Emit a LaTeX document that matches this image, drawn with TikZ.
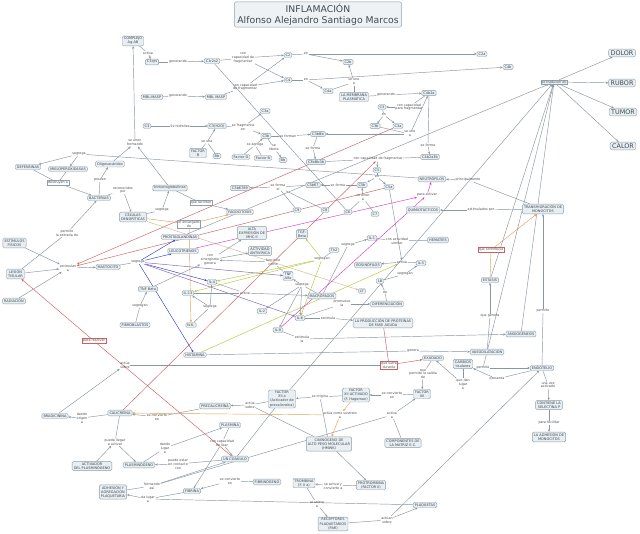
\documentclass[tikz,border=0pt]{standalone}
\usepackage{fontspec}
\setmainfont{DejaVu Sans}
\usetikzlibrary{arrows.meta}
\pgfdeclarelayer{bgl}
\pgfsetlayers{bgl,main}
\definecolor{nbg}{HTML}{E8EEF2}
\definecolor{tbg}{HTML}{EEF2F5}
\definecolor{nbd}{HTML}{8EA0AC}
\definecolor{ntx}{HTML}{3F4A54}
\definecolor{ltx}{HTML}{4A4A4A}
\definecolor{ln}{HTML}{8A96A0}
\definecolor{rd}{HTML}{D06060}
\definecolor{og}{HTML}{E8A050}
\definecolor{mg}{HTML}{D040D0}
\definecolor{bl}{HTML}{3040C0}
\definecolor{pu}{HTML}{8060C0}
\definecolor{yg}{HTML}{B8C840}
\definecolor{tn}{HTML}{D8B890}
\tikzset{
 nd/.style={draw=nbd, fill=nbg, rounded corners=1.3pt, text=ntx, align=center, font=\fontsize{3.5}{4.1}\selectfont, inner xsep=1.6pt, inner ysep=1.2pt, line width=0.4pt},
 bignd/.style={nd, font=\fontsize{6.4}{7.5}\selectfont, inner xsep=2pt, inner ysep=1.4pt, rounded corners=2pt},
 ttl/.style={nd, font=\fontsize{9.3}{11}\selectfont, inner xsep=3pt, inner ysep=1.8pt, rounded corners=2pt, fill=tbg},
 lb/.style={text=ltx, align=center, font=\fontsize{3.3}{3.8}\selectfont, inner sep=0.5pt},
 lbw/.style={lb, draw=nbd, fill=white, line width=0.3pt, inner sep=0.8pt},
 lbr/.style={lb, draw=rd, fill=white, line width=0.3pt, inner sep=0.8pt},
 lbb/.style={lb, draw=nbd, fill=nbg, line width=0.3pt, inner sep=0.8pt},
 ed/.style={line width=0.45pt},
}
\newcommand\Nd[4][]{\node[nd,#1] (#2) at (#3) {#4};}
\newcommand\Lb[4][]{\node[lb,#1] (#2) at (#3) {#4};}
\newcommand\eL[3][ln]{\draw[ed,draw=#1] (#2) -- (#3);}
\newcommand\eA[3][ln]{\draw[ed,draw=#1,-{Stealth[length=2.6pt,width=2.2pt]}] (#2) -- (#3);}
\begin{document}
\begin{tikzpicture}[x=1pt,y=-1pt]
\useasboundingbox (0,0) rectangle (640,534);
% title and outcomes
\node[ttl] (title) at (318,14.5) {INFLAMACIÓN\\Alfonso Alejandro Santiago Marcos};
\node[bignd] (dolor) at (622,53) {DOLOR};
\node[bignd] (rubor) at (622,83) {RUBOR};
\node[bignd] (tumor) at (623,112) {TUMOR};
\node[bignd] (calor) at (623,146) {CALOR};
\Lb[lbb]{traducen}{554,82}{se traducen en}
% complement
\Nd{complejo}{133,41}{COMPLEJO\\Ag-AB}
\Lb{activa1}{148,53}{activa}
\Nd{c1qrs}{152,62}{C1qrs}
\Lb{gen1}{178,62}{generando}
\Nd{c1r2s2}{212,61}{C1r2s2}
\Lb{ccf1}{243,58}{con\\capacidad de\\fragmentar}
\Nd{c2}{288,55}{C2}
\Lb{en1}{306,54}{en}
\Nd{c4}{288,80}{C4}
\Lb{en2}{306,80}{en}
\Nd{mbl1}{152,97}{MBL-MASP}
\Lb{gen2}{178,96}{generando}
\Nd{mbl2}{216,97}{MBL MASP}
\Lb{ccf2}{245,87}{con capacidad\\de fragmentar}
\Nd{c3L}{147,126}{C3}
\Lb{hidro}{180,126}{Se hidroliza}
\Nd{c3h}{217,126}{C3(H2O)}
\Lb{frag}{243,127}{se fragmenta\\en}
\Nd{c3aL}{265,111}{C3a}
\Nd{c3bL}{266,136}{C3b}
\Lb{seune}{207,142}{se une}
\Nd{fb1}{198,153}{FACTOR\\B}
\Nd{bb1}{217,156}{Bb}
\Lb{seagrega}{255,145}{se agrega}
\Lb{selibera}{274,148}{se\\libera}
\Nd{fd}{241,157}{Factor D}
\Nd{fb2}{263,158}{Factor B}
\Nd{bb2}{283,160}{Bb}
\Lb{seforman}{288,136}{se forman}
\Nd{c3bbb}{318,134}{C3bBb}
\Lb{seforma2}{313,148}{se forma}
\Nd{c3bbb3b}{316,162}{C3bBb3b}
\Nd{c2a}{482,54}{C2a}
\Nd{c2b}{348,62}{C2b}
\Nd{c4b}{508,67}{C4b}
\Nd{c4a}{328,91}{C4a}
\Lb{seunea1}{354,82}{se une\\a}
\Nd{membrana}{354,97}{LA MEMBRANA\\PLASMÁTICA}
\Lb{gen3}{386,95}{generando}
\Nd{c4b2a}{429,93}{C4b2a}
\Nd{c3R}{382,107}{C3}
\Lb{ccfp}{409,107}{con capacidad\\para fragmentar}
\Lb{en3}{384,115}{en}
\Nd{c3bR}{375,126}{C3b}
\Nd{c3aR}{398,126}{C3a}
\Lb{seunea2}{410,134}{se une\\a}
\Lb{seforma1}{428,145}{se forma}
\Nd{c4b2a3b}{430,157}{C4b2a3b}
\Lb{ccf3}{378,159}{con capacidad de fragmentar}
\Nd{c5}{377,170}{C5}
\Lb{en4}{377,177}{en}
\Nd{c5b}{362,185}{C5b}
\Nd{c5a}{389,187}{C5a}
\Lb{seforma3}{338,185}{se forma}
\Nd{c5b67}{313,185}{C5b67}
\Lb{seunena}{363,198}{se unen\\a}
\Nd{c6}{348,212}{C6}
\Nd{c7}{375,214}{C7}
\Nd{c8}{325,210}{C8}
\Nd{c9}{297,210}{C9}
\Lb{seformael}{278,187}{se forma\\el}
\Nd{c5b6789}{240,188}{C5b6789}
% cells
\Nd{neutro}{432,179}{NEUTRÓFILOS}
\Lb{principalmente}{468,180}{principalmente}
\Lb{paraactivar}{427,195}{para activar}
\Nd{quimio}{423,210}{QUIMIOTÁCTICOS}
\Lb{atraidos}{481,210}{estimulados por}
\Nd{transmig}{543,209}{TRANSMIGRACIÓN DE\\MONOCITOS}
\Nd{hematies}{438,240}{HEMATÍES}
\Lb{conactividad}{397,241}{con actividad\\similar}
\Nd{il1}{372,238}{IL-1}
\Lb{segrega5}{348,245}{segrega}
\Nd{th2}{334,250}{Th2}
\Lb{segregan1}{322,259}{segregan}
\Nd{eosino}{368,265}{EOSINÓFILOS}
\Lb{activa2}{402,262}{activa}
\Nd{il5}{421,263}{IL-5}
\Nd{lb}{380,281}{LB}
\Lb{segregan2}{405,274}{segregan}
\Nd{lt}{362,291}{LT}
\Lb{de1}{385,292}{de}
\Nd{difer}{387,304}{DIFERENCIACIÓN}
\Lb{promueve}{342,304}{promueve\\la}
\Nd{produccion}{383,323}{LA PRODUCCIÓN DE PROTEÍNAS\\DE FASE AGUDA}
\Lb{estimula1}{328,318}{estimula}
\Nd{macrofagos}{322,296}{MACRÓFAGOS}
\Lb{segrega6}{302,285}{segrega}
\Nd{tnfa}{288,276}{TNF\\Alfa}
\Lb{funciona}{273,262}{funciona\\como}
\Nd{actividad}{260,251}{ACTIVIDAD\\ANTIVÍRICA}
\Nd{alta}{252,233}{ALTA\\EXPRESIÓN DE\\MHC-II}
\Nd{tgf}{302,234}{TGF-\\Beta}
\Lb{sinergismo}{210,260}{con\\sinergismo\\genera}
\Nd{il4}{212,282}{IL-4}
\Nd{il13}{188,293}{IL-13}
\Lb{activa3}{245,293}{activa}
\Lb{segrega7}{210,307}{segrega}
\Nd{nk}{191,325}{N.K.}
\Nd{il2}{262,311}{IL-2}
\Nd{il6}{300,318}{IL-6}
\Nd{il8}{278,330}{IL-8}
\Lb{estimula2}{302,339}{estimula\\la}
\Nd{histamina}{195,355}{HISTAMINA}
\Nd{prosta}{180,237}{PROSTAGLANDINAS}
\Nd{leuco}{183,251}{LEUCOTRIENOS}
\Lb[lbw]{encargado}{189,224}{el encargado\\de}
\Nd{fagocitosis}{240,212}{FAGOCITOSIS}
\Lb[lbw]{facilitan}{201,203}{que facilitan}
\Nd{inmuno}{170,188}{Inmunoglobulinas}
\Lb{segrega2}{162,210}{segrega}
\Nd{celulas}{133,217}{CÉLULAS\\DENDRÍTICAS}
\Lb{reconocidos}{123,190}{reconocidos\\por}
\Nd{bacterias}{99,198}{BACTERIAS}
\Lb{poseen}{100,180}{poseen}
\Nd{oligo}{110,164}{Oligosacáridos}
\Lb{segrega1}{79,154}{segrega}
\Nd{defensinas}{28,167}{DEFENSINAS}
\Nd{mielo}{68,169}{MIELOPEROXIDASAS}
\Lb[lbw]{destruyen}{58,183}{destruyen a}
\Lb{seunenformando}{135,143}{se unen\\formando}
\Nd{estimulos}{14.5,243}{ESTÍMULOS\\FÍSICOS}
\Nd{lesion}{15.5,274}{LESIÓN\\TISULAR}
\Nd{radiacion}{14,301}{RADIACIÓN}
\Lb{permite1}{67,233}{permite\\la entrada de}
\Lb{estimulan}{68,268}{estimulan\\a}
\Nd{mastocito}{108,267}{MASTOCITO}
\Lb{segrega3}{138,262}{segrega}
\Nd{tnfb}{148,289}{TNF Beta}
\Lb{segregan3}{140,306}{segregan}
\Nd{fibro}{135,325}{FIBROBLASTOS}
\Lb[lbr]{pararesolver}{94,341}{para resolver}
% coagulation
\Lb{actua1}{125,365}{actúa\\sobre}
\Nd{bradicinina}{55,416}{BRADICININA}
\Lb{dando1}{82,418}{dando\\origen\\a}
\Nd{calicreina}{120,413}{CALICREÍNA}
\Lb{seconvierte1}{157,417}{se convierte\\en}
\Lb{puede}{115,442}{puede llegar\\a activar}
\Nd{activador}{92,466}{ACTIVADOR\\DEL PLASMINÓGENO}
\Nd{plasminogeno}{139,465}{PLASMINÓGENO}
\Nd{adhesion}{113,492}{ADHESIÓN Y\\AGREGACIÓN\\PLAQUETARIA}
\Lb{formando}{152,486}{formando\\así}
\Lb{dalugar}{148,499}{da lugar\\a}
\Nd{precalicreina}{215,406}{PRECALICREÍNA}
\Lb{actua2}{250,405}{actúa\\sobre}
\Nd{factorxiia}{282,399}{FACTOR\\XII a\\(Activador de\\precalicreína)}
\Nd{plasmina}{230,425}{PLASMINA}
\Lb{lisar}{222,443}{con capacidad\\de lisar}
\Lb{dandolugar}{165,448}{dando\\lugar\\a}
\Lb{contacto}{178,464}{puede estar\\en contacto\\con}
\Nd{coagulo}{235,459}{UN COÁGULO}
\Lb{seconvierte2}{230,481}{se convierte\\en}
\Nd{fibrinogeno}{267,482}{FIBRINÓGENO}
\Nd{fibrina}{192,491}{FIBRINA}
\Nd{trombina}{304,483}{TROMBINA\\(F. II a)}
\Nd{cininogeno}{329,444}{CININÓGENO DE\\ALTO PESO MOLECULAR\\(HMWK)}
\Nd{factorxiiact}{356,395}{FACTOR\\XII ACTIVADO\\(F. Hageman)}
\Lb{seconvierte3}{392,395}{se convierte\\en}
\Nd{factorxii}{422,394}{FACTOR\\XII}
\Lb{seorigina}{320,397}{se origina}
\Lb{sustrato}{340,415}{actúa como sustrato\\a}
\Lb{activaa}{392,415}{activa\\a}
\Nd{componentes}{403,443}{COMPONENTES DE\\LA MATRIZ E.C.}
\Nd{protrombina}{371,485}{PROTROMBINA\\(FACTOR II)}
\Lb{seactiva}{333,486}{se activa y\\convierte a}
\Lb{alunirse}{317,504}{al unirse\\a}
\Nd{receptores}{333,524}{RECEPTORES\\PLAQUETARIOS\\(PAR)}
\Lb{actuan}{387,520}{actúan\\sobre}
\Nd{plaquetas}{425,505}{PLAQUETAS}
\Lb[lbr]{quesufre}{389,365}{que sufre\\durante}
\Nd{exudado}{433,358}{EXUDADO}
\Nd{cambios}{463,364}{CAMBIOS\\tisulares}
\Lb{genera1}{413,351}{genera}
\Lb{permiteSalida}{423,374}{que\\permite la salida\\de}
\Lb{quedan}{463,384}{que dan\\lugar\\a}
% vascular
\Nd{vaso}{487,352}{VASODILATACIÓN}
\Lb{quegenera}{490,316}{que genera}
\Nd{estasis}{490,280}{ESTASIS}
\Lb[lbr]{contribuye}{491,250}{que contribuye}
\Nd{angio}{521,334}{ANGIOGÉNESIS}
\Lb{permite3}{543,311}{permite}
\Nd{endotelio}{542,368}{ENDOTELIO}
\Lb{permite2}{483,368}{permite}
\Lb{presenta}{497,379}{presenta}
\Lb{unavez}{548,385}{una vez\\activado}
\Nd{selectina}{549,405}{CONTIENE LA\\SELECTINA P}
\Lb{facilitar}{549,423}{para facilitar}
\Nd{adhesionmono}{549,437}{LA ADHESIÓN DE\\MONOCITOS}
\begin{pgfonlayer}{bgl}
\fill[white] (0,0) rectangle (640,534);
% complement
\eL{complejo}{activa1}\eA{activa1}{c1qrs}
\eL{c1qrs}{gen1}\eA{gen1}{c1r2s2}
\eL{c1r2s2}{ccf1}\eA{ccf1}{c2}\eA{ccf1}{c4}
\eL{mbl1}{gen2}\eA{gen2}{mbl2}
\eL{mbl2}{ccf2}\eA{ccf2}{c2}\eA{ccf2}{c4}
\eL{c2}{en1}\eA{en1}{c2a}\eA{en1}{c2b}
\eL{c4}{en2}\eA{en2}{c4b}\eA{en2}{c4a}
\eL{membrana}{seunea1}\eL{c4a}{seunea1}\eA{seunea1}{c2b}
\eL{membrana}{gen3}\eA{gen3}{c4b2a}
\eL{c4b2a}{ccfp}\eA{ccfp}{c3R}
\eL{c3R}{en3}\eA{en3}{c3bR}\eA{en3}{c3aR}
\eL{c3bR}{seunea2}\eA{seunea2}{c4b2a}\eA{seunea2}{c3bbb}
\eL{c4b2a}{seforma1}\eA{seforma1}{c4b2a3b}
\eL{c3L}{hidro}\eA{hidro}{c3h}
\eL{fb1}{seune}\eL{bb1}{seune}\eA{seune}{c3h}
\eL{c3h}{frag}\eA{frag}{c3aL}\eA{frag}{c3bL}
\eL{c3bL}{seforman}\eA{seforman}{c3bbb}
\eL{fd}{seagrega}\eL{fb2}{seagrega}\eA{seagrega}{c3bL}
\eL{c3bL}{selibera}\eA{selibera}{bb2}
\eL{c3bbb}{seforma2}\eA{seforma2}{c3bbb3b}
\eL{c3bbb3b}{ccf3}\eL{c4b2a3b}{ccf3}\eA{ccf3}{c5}
\eL{c5}{en4}\eA{en4}{c5b}\eA{en4}{c5a}
\eL{c6}{seunena}\eL{c7}{seunena}\eA{seunena}{c5b}
\eL{c5b}{seforma3}\eA{seforma3}{c5b67}
\eL{c5b67}{seformael}\eL{c8}{seformael}\eL{c9}{seformael}\eA{seformael}{c5b6789}
\eL{c1r2s2}{c6}
% red
\eA[rd]{c3aR}{estimulan}
\eA[rd]{c5a}{estimulan}
\eA[rd]{calicreina}{ccf3}
\eL[rd]{coagulo}{pararesolver}\eA[rd]{pararesolver}{lesion}
\eL[rd]{produccion}{quesufre}\eA[rd]{quesufre}{exudado}
% immune
\eL{neutro}{segrega1}\eA{segrega1}{defensinas}\eA{segrega1}{mielo}
\eL{defensinas}{destruyen}\eL{mielo}{destruyen}\eA{destruyen}{bacterias}
\eL{bacterias}{poseen}\eA{poseen}{oligo}
\eL{bacterias}{reconocidos}\eA{reconocidos}{celulas}
\eA{oligo}{seunenformando}\eA{inmuno}{seunenformando}\eA{seunenformando}{complejo}
\eL{celulas}{segrega2}\eA{segrega2}{inmuno}
\eL{inmuno}{facilitan}\eA{facilitan}{fagocitosis}
\eL[og]{celulas}{encargado}\eA[og]{encargado}{fagocitosis}\eA[og]{encargado}{nk}
\eA[tn]{celulas}{lt}
\eL{lesion}{permite1}\eA{permite1}{bacterias}
\eA{estimulos}{estimulan}\eA{lesion}{estimulan}\eA{radiacion}{estimulan}\eA{estimulan}{mastocito}
\eL{mastocito}{segrega3}
\eA[bl]{segrega3}{prosta}\eA[bl]{segrega3}{leuco}\eA[bl]{segrega3}{il4}\eA[bl]{segrega3}{histamina}
\eA[pu]{segrega3}{il6}\eA[pu]{segrega3}{tnfa}
\eL{fibro}{segregan3}\eA{segregan3}{tnfb}
\eA{tnfb}{sinergismo}\eL{tnfa}{funciona}\eA{funciona}{sinergismo}
\eA{sinergismo}{alta}\eA{sinergismo}{actividad}
\eL{macrofagos}{segrega6}\eA{segrega6}{tnfa}\eA{segrega6}{il2}\eA{segrega6}{il6}\eA{segrega6}{il8}
\eL{macrofagos}{segrega5}\eA{segrega5}{il1}
\eL{th2}{segregan1}
\eA[yg]{segregan1}{il4}\eA[yg]{segregan1}{il13}\eA[yg]{segregan1}{tgf}\eA[yg]{segregan1}{il6}
\eA[yg]{histamina}{activa2}
\eL{il5}{activa2}\eA{activa2}{eosino}
\eA{c5a}{activa2}
\eL{il1}{conactividad}\eL{conactividad}{hematies}
\eL{lb}{segregan2}\eA{segregan2}{il5}
\eL{difer}{de1}\eA{de1}{lb}
\eL{il6}{promueve}\eA{promueve}{difer}
\eL{il6}{estimula1}\eA{estimula1}{produccion}
\eL{il8}{estimula2}\eA{estimula2}{angio}
\eA[mg]{leuco}{paraactivar}\eA[mg]{il8}{paraactivar}\eA[mg]{paraactivar}{neutro}
\eL{il13}{activa3}\eL{il4}{activa3}\eA{activa3}{macrofagos}
\eL{nk}{segrega7}\eA{segrega7}{il13}\eA{segrega7}{il4}
\eL{transmig}{principalmente}\eA{principalmente}{neutro}
\eL{transmig}{atraidos}\eA{atraidos}{quimio}
% vascular
\eL[og]{estasis}{contribuye}\eA[og]{contribuye}{transmig}
\eL{vaso}{quegenera}\eA{quegenera}{estasis}
\eL{endotelio}{permite3}\eA{permite3}{transmig}
\eL{endotelio}{unavez}\eA{unavez}{selectina}\eL{selectina}{facilitar}\eA{facilitar}{adhesionmono}
\eA{vaso}{traducen}\eA{estasis}{traducen}\eA{angio}{traducen}\eA{prosta}{traducen}\eA{factorxiia}{traducen}
\eA{traducen}{dolor}\eA{traducen}{rubor}\eA{traducen}{tumor}\eA{traducen}{calor}
\eL{histamina}{genera1}\eA{genera1}{vaso}
\eL{vaso}{permite2}\eA{permite2}{endotelio}
\eL{endotelio}{presenta}\eA{presenta}{cambios}
\eL{cambios}{quedan}\eA{quedan}{exudado}
\eL{exudado}{permiteSalida}\eA{permiteSalida}{factorxii}
% coagulation
\eL{factorxii}{seconvierte3}\eA{seconvierte3}{factorxiiact}
\eL{factorxiiact}{seorigina}\eA{seorigina}{factorxiia}
\eL{factorxiia}{actua2}\eA{actua2}{precalicreina}
\eL{precalicreina}{seconvierte1}\eA{seconvierte1}{calicreina}
\eL{calicreina}{dando1}\eA{dando1}{bradicinina}
\eA{bradicinina}{actua1}\eL{actua1}{quesufre}
\eL{calicreina}{puede}\eA{activador}{puede}\eA{puede}{plasminogeno}
\eL{plasminogeno}{dandolugar}\eA{dandolugar}{plasmina}
\eL{plasmina}{lisar}\eA{lisar}{coagulo}\eA{lisar}{fibrina}
\eL{coagulo}{contacto}\eA{contacto}{plasminogeno}
\eL{adhesion}{formando}\eA{formando}{coagulo}\eL{formando}{activaa}
\eL{fibrinogeno}{seconvierte2}\eA{seconvierte2}{fibrina}
\eL{fibrina}{dalugar}\eL{plaquetas}{dalugar}\eA{dalugar}{adhesion}
\eL{componentes}{activaa}\eA{activaa}{factorxii}
\eA[og]{factorxiiact}{sustrato}\eA[og]{sustrato}{cininogeno}\eA[og]{sustrato}{calicreina}
\eL{cininogeno}{actua2}\eL{cininogeno}{seorigina}\eA{cininogeno}{protrombina}
\eL{protrombina}{seactiva}\eA{seactiva}{trombina}
\eL{trombina}{alunirse}\eA{alunirse}{receptores}
\eL{receptores}{actuan}\eA{actuan}{plaquetas}\eA{actuan}{endotelio}
\eL{coagulo}{factorxiia}
\end{pgfonlayer}
\end{tikzpicture}
\end{document}
